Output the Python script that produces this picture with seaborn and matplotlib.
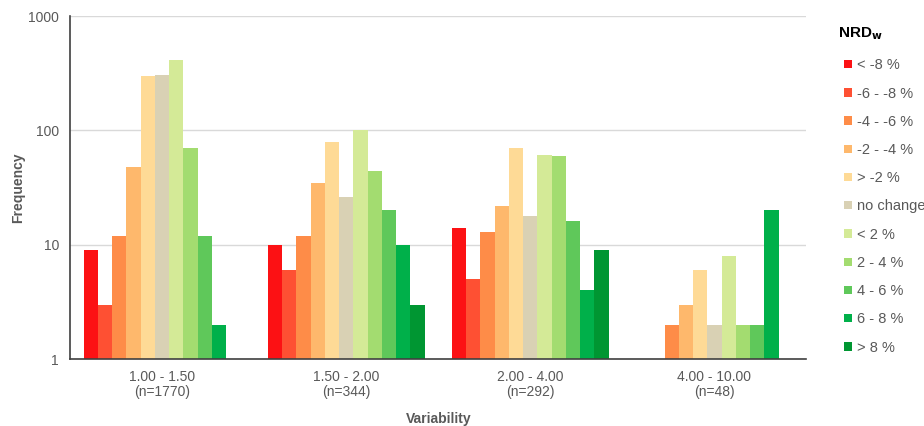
import numpy as np
import pandas as pd
import seaborn as sns
import matplotlib
matplotlib.use("Agg")
import matplotlib.pyplot as plt
from matplotlib.patches import Patch

categories = ["1.00 - 1.50\n(n=1770)", "1.50 - 2.00\n(n=344)", "2.00 - 4.00\n(n=292)", "4.00 - 10.00\n(n=48)"]
series = ["< -8 %", "-6 - -8 %", "-4 - -6 %", "-2 - -4 %", "> -2 %", "no change",
          "< 2 %", "2 - 4 %", "4 - 6 %", "6 - 8 %", "> 8 %"]
colors = ["#FC1114", "#FE5033", "#FE8C48", "#FEB86C", "#FEDA96", "#D9D1B4",
          "#D4EA97", "#A3DC70", "#5FC85A", "#00B04A", "#009632"]

# values per series across the four categories (NaN = no bar)
v_lt_m8 = [9, 10, 14, np.nan]
v_m6_m8 = [3, 6, 5, np.nan]
v_m4_m6 = [12, 12, 13, 2]
v_m2_m4 = [48, 35, 22, 3]
v_gt_m2 = [298, 79, 70, 6]
v_nochg = [304, 26, 18, 2]
v_lt_2 = [415, 100, 61, 8]
v_2_4 = [70, 44, 60, 2]
v_4_6 = [12, 20, 16, 2]
v_6_8 = [2, 10, 4, 20]
v_gt_8 = [np.nan, 3, 9, np.nan]

values = [v_lt_m8, v_m6_m8, v_m4_m6, v_m2_m4, v_gt_m2, v_nochg,
          v_lt_2, v_2_4, v_4_6, v_6_8, v_gt_8]

rows = []
for s, vals in zip(series, values):
    for c, v in zip(categories, vals):
        rows.append({"Variability": c, "NRD": s, "Frequency": v})
df = pd.DataFrame(rows)

sns.set_style("white")
plt.rcParams["font.family"] = ["Liberation Sans", "DejaVu Sans"]

fig = plt.figure(figsize=(9.24, 4.26), dpi=100)
ax = fig.add_axes([0.0758, 0.157, 0.797, 0.805])

sns.barplot(data=df, x="Variability", y="Frequency", hue="NRD",
            order=categories, hue_order=series, palette=colors,
            width=0.852, saturation=1, linewidth=0, ax=ax, legend=False,
            errorbar=None)

ax.set_yscale("log")
ax.set_ylim(1, 1000)
ax.set_xlim(-0.5, len(categories) - 0.5)
ax.set_yticks([1, 10, 100, 1000])
ax.set_yticklabels(["1", "10", "100", "1000"])
ax.minorticks_off()
ax.yaxis.grid(True, color="#D9D9D9", linewidth=1)
ax.set_axisbelow(True)

for side in ["top", "right"]:
    ax.spines[side].set_visible(False)
for side in ["left", "bottom"]:
    ax.spines[side].set_color("#404040")
    ax.spines[side].set_linewidth(1.2)

ax.tick_params(axis="y", length=0, labelsize=10, colors="#595959", pad=8)
ax.tick_params(axis="x", length=0, labelsize=10, colors="#595959", pad=8)
for t in ax.get_xticklabels():
    t.set_linespacing(1.1)
ax.set_xlabel("Variability", fontsize=10, fontweight="bold", color="#595959", labelpad=9)
ax.set_ylabel("Frequency", fontsize=10, fontweight="bold", color="#595959", va="center")
ax.yaxis.set_label_coords(-0.0706, 0.5)

handles = [Patch(facecolor=c, edgecolor="none", label=s) for s, c in zip(series, colors)]
leg = ax.legend(handles=handles, loc="upper left",
                bbox_to_anchor=(1.0516, 0.877), frameon=False, fontsize=10.5,
                handlelength=0.5, handleheight=0.5, handletextpad=0.35,
                labelspacing=0.975, borderaxespad=0, borderpad=0)
for t in leg.get_texts():
    t.set_color("#595959")

fig.text(838 / 924, 1 - 34 / 426, r"NRD$_\mathbf{w}$", fontsize=11, fontweight="bold",
         color="#000000", ha="left", va="center")

fig.savefig("out.png", dpi=100)
